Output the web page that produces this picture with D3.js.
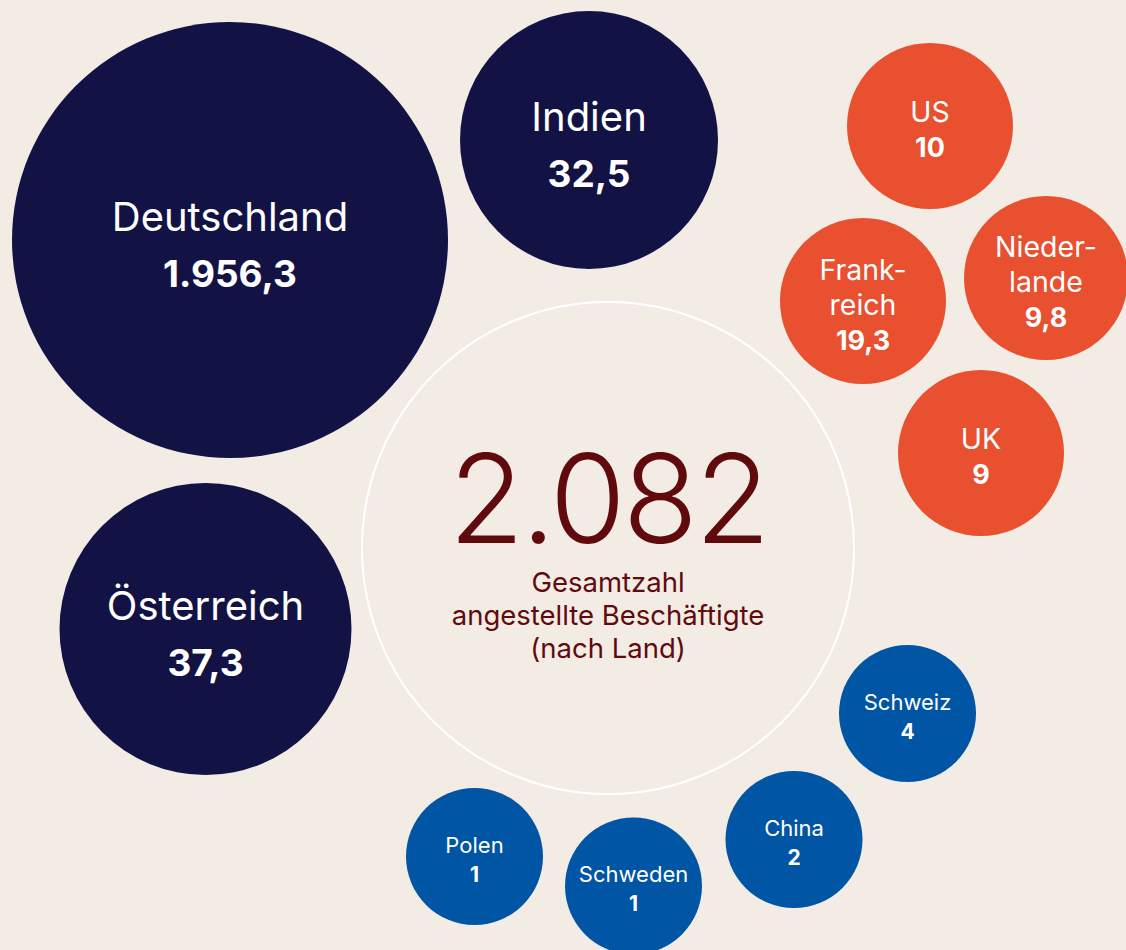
<!DOCTYPE html>
<meta charset="utf-8">
<style>
body { margin: 0; background: #f2ece5; }
svg { display: block; font-family: "Inter", "Noto Sans", sans-serif; }
.label { fill: #fff; font-weight: 400; }
.value { fill: #fff; font-weight: 700; }
</style>
<svg width="1126" height="950"></svg>
<script src="https://cdn.jsdelivr.net/npm/d3@7"></script>
<script>
// Daten: angestellte Beschäftigte nach Land
var countries = ['Deutschland', 'Indien', 'Österreich', 'US', 'Frank-|reich', 'Nieder-|lande', 'UK', 'Schweiz', 'China', 'Schweden', 'Polen'];
var values = [1956.3, 32.5, 37.3, 10, 19.3, 9.8, 9, 4, 2, 1, 1];
var groups = ['gross', 'gross', 'gross', 'mittel', 'mittel', 'mittel', 'mittel', 'klein', 'klein', 'klein', 'klein'];
var total = 2082;
var totalLines = ['Gesamtzahl', 'angestellte Beschäftigte', '(nach Land)'];

// Layout (handplatziert, in Einheiten relativ zum Mittelkreis)
var layout = [
  [-3.78, -3.08, 218], [-0.19, -4.08, 129], [-4.025, 0.81, 146],
  [3.22, -4.22, 83], [2.55, -2.47, 83], [4.38, -2.70, 82], [3.73, -0.95, 83],
  [2.995, 1.655, 68.5], [1.86, 2.915, 68.5], [0.255, 3.38, 68.5], [-1.335, 3.085, 68.5]
];

var color = d3.scaleOrdinal().domain(['gross', 'mittel', 'klein']).range(['#131245', '#e8502f', '#0055a4']);
var labelSize = d3.scaleOrdinal().domain(['gross', 'mittel', 'klein']).range([40, 28.5, 22]);
var valueSize = d3.scaleOrdinal().domain(['gross', 'mittel', 'klein']).range([37, 27, 21]);
var lineHeight = d3.scaleOrdinal().domain(['gross', 'mittel', 'klein']).range([56, 35, 29]);

var svg = d3.select('svg');
var cx = 608, cy = 548, R = 246;
var unit = 100;
var x = d3.scaleLinear().domain([0, 1]).range([cx, cx + unit]);
var y = d3.scaleLinear().domain([0, 1]).range([cy, cy + unit]);

var fmt = d3.formatLocale({ decimal: ',', thousands: '.', grouping: [3], currency: ['', '€'] });
var fmtVal = function (v) { return Number.isInteger(v) ? fmt.format(',d')(v) : fmt.format(',.1f')(v); };

svg.append('rect').attr('width', 1126).attr('height', 950).attr('fill', '#f2ece5');

// Mittelkreis
svg.append('circle')
  .attr('cx', cx).attr('cy', cy).attr('r', R)
  .attr('fill', 'none').attr('stroke', '#fff').attr('stroke-width', 2);

svg.append('text')
  .attr('x', cx).attr('y', 543)
  .attr('text-anchor', 'middle')
  .attr('fill', '#610a0e')
  .attr('font-size', 123).attr('font-weight', 300)
  .attr('letter-spacing', -3)
  .text(fmt.format(',d')(total));

svg.selectAll('.total-line')
  .data(totalLines)
  .enter().append('text')
  .attr('class', 'total-line')
  .attr('x', cx).attr('y', function (d, i) { return 592 + i * 33; })
  .attr('text-anchor', 'middle')
  .attr('fill', '#610a0e')
  .attr('font-size', 27.5)
  .text(function (d) { return d; });

var data = countries.map(function (c, i) {
  return { name: c, value: values[i], group: groups[i], pos: layout[i] };
});

var node = svg.selectAll('.node')
  .data(data)
  .enter().append('g')
  .attr('class', 'node')
  .attr('transform', function (d) { return 'translate(' + x(d.pos[0]) + ',' + y(d.pos[1]) + ')'; });

node.append('circle')
  .attr('r', function (d) { return d.pos[2]; })
  .attr('fill', function (d) { return color(d.group); });

node.each(function (d) {
  var g = d3.select(this);
  var lines = d.name.split('|');
  var n = lines.length + 1;
  var lh = lineHeight(d.group);
  var off = 0.48 * labelSize(d.group);
  var y0 = -(n - 1) * lh / 2 + off;
  lines.forEach(function (t, i) {
    g.append('text')
      .attr('class', 'label')
      .attr('text-anchor', 'middle')
      .attr('y', y0 + i * lh)
      .attr('font-size', labelSize(d.group))
      .text(t);
  });
  g.append('text')
    .attr('class', 'value')
    .attr('text-anchor', 'middle')
    .attr('y', y0 + lines.length * lh)
    .attr('font-size', valueSize(d.group))
    .text(fmtVal(d.value));
});
</script>
